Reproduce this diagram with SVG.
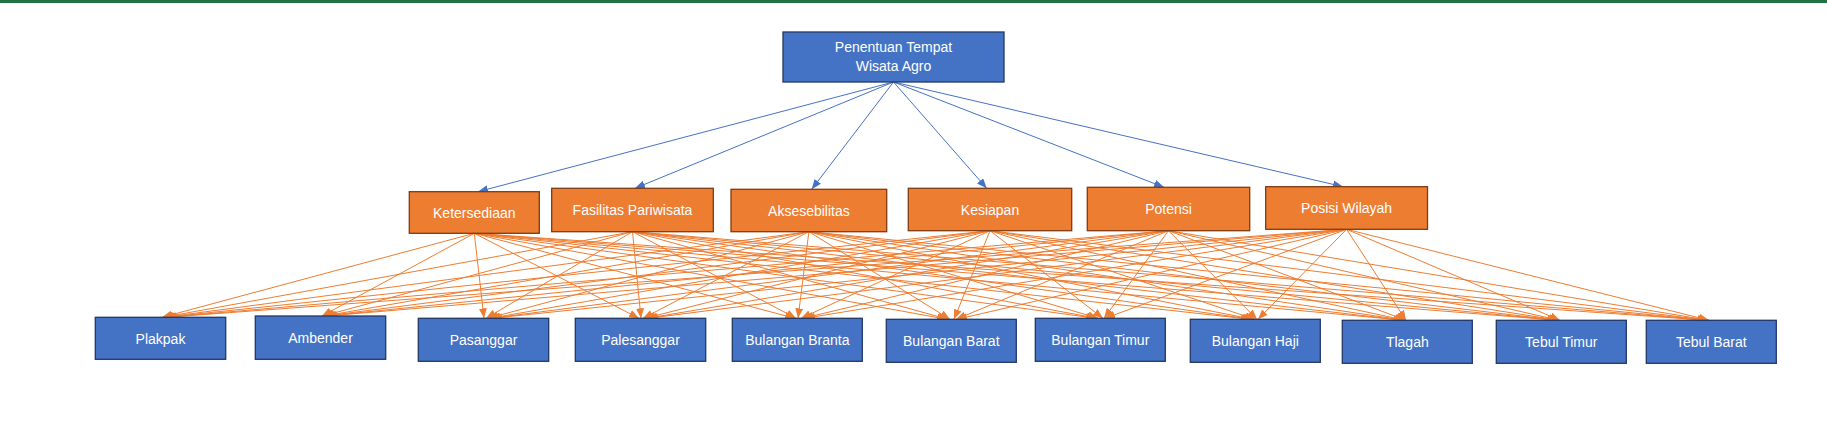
<svg xmlns="http://www.w3.org/2000/svg" width="1827" height="421" viewBox="0 0 1827 421">
<style>
.blue{fill:#4472C4;stroke:#203864;stroke-width:1.3}
.orange{fill:#ED7D31;stroke:#7F3A10;stroke-width:1.3}
.t{font-family:"Liberation Sans",Arial,sans-serif;font-size:14px;fill:#FFFFFF;text-anchor:middle}
.bl{stroke:#4472C4;stroke-width:1;fill:none;marker-end:url(#ab)}
.ol{stroke:#ED7D31;stroke-width:1;fill:none;marker-end:url(#ao)}
</style>
<defs>
<marker id="ab" markerUnits="userSpaceOnUse" markerWidth="10" markerHeight="8" refX="10" refY="4" orient="auto"><path d="M0,0 L10,4 L0,8 z" fill="#4472C4"/></marker>
<marker id="ao" markerUnits="userSpaceOnUse" markerWidth="10" markerHeight="8" refX="10" refY="4" orient="auto"><path d="M0,0 L10,4 L0,8 z" fill="#ED7D31"/></marker>
</defs>
<rect x="0" y="0" width="1827" height="421" fill="#FFFFFF"/>
<rect x="0" y="0" width="1827" height="3" fill="#217346"/>
<g id="connectors">
<line class="bl" x1="893.5" y1="82" x2="478" y2="191.7"/>
<line class="bl" x1="893.5" y1="82" x2="635" y2="188.3"/>
<line class="bl" x1="893.5" y1="82" x2="811.7" y2="189.3"/>
<line class="bl" x1="893.5" y1="82" x2="986.7" y2="188.3"/>
<line class="bl" x1="893.5" y1="82" x2="1164" y2="187.3"/>
<line class="bl" x1="893.5" y1="82" x2="1343" y2="186.7"/>
<!-- Ketersediaan -->
<line class="ol" x1="474.3" y1="233.3" x2="162" y2="317.3"/>
<line class="ol" x1="474.3" y1="233.3" x2="322" y2="316"/>
<line class="ol" x1="474.3" y1="233.3" x2="484" y2="318.3"/>
<line class="ol" x1="474.3" y1="233.3" x2="639" y2="318.3"/>
<line class="ol" x1="474.3" y1="233.3" x2="795" y2="318.3"/>
<line class="ol" x1="474.3" y1="233.3" x2="947" y2="319.3"/>
<line class="ol" x1="474.3" y1="233.3" x2="1096" y2="318.3"/>
<line class="ol" x1="474.3" y1="233.3" x2="1251" y2="319.3"/>
<line class="ol" x1="474.3" y1="233.3" x2="1404" y2="320.3"/>
<line class="ol" x1="474.3" y1="233.3" x2="1558" y2="320.3"/>
<line class="ol" x1="474.3" y1="233.3" x2="1708" y2="320.3"/>
<!-- Fasilitas Pariwisata -->
<line class="ol" x1="632.5" y1="231.7" x2="163" y2="317.3"/>
<line class="ol" x1="632.5" y1="231.7" x2="323" y2="316"/>
<line class="ol" x1="632.5" y1="231.7" x2="486" y2="318.3"/>
<line class="ol" x1="632.5" y1="231.7" x2="641" y2="318.3"/>
<line class="ol" x1="632.5" y1="231.7" x2="796" y2="318.3"/>
<line class="ol" x1="632.5" y1="231.7" x2="948" y2="319.3"/>
<line class="ol" x1="632.5" y1="231.7" x2="1097" y2="318.3"/>
<line class="ol" x1="632.5" y1="231.7" x2="1252" y2="319.3"/>
<line class="ol" x1="632.5" y1="231.7" x2="1404" y2="320.3"/>
<line class="ol" x1="632.5" y1="231.7" x2="1558" y2="320.3"/>
<line class="ol" x1="632.5" y1="231.7" x2="1708" y2="320.3"/>
<!-- Aksesebilitas -->
<line class="ol" x1="808.9" y1="231.7" x2="164" y2="317.3"/>
<line class="ol" x1="808.9" y1="231.7" x2="324" y2="316"/>
<line class="ol" x1="808.9" y1="231.7" x2="488" y2="318.3"/>
<line class="ol" x1="808.9" y1="231.7" x2="643" y2="318.3"/>
<line class="ol" x1="808.9" y1="231.7" x2="798" y2="318.3"/>
<line class="ol" x1="808.9" y1="231.7" x2="950" y2="319.3"/>
<line class="ol" x1="808.9" y1="231.7" x2="1098" y2="318.3"/>
<line class="ol" x1="808.9" y1="231.7" x2="1253" y2="319.3"/>
<line class="ol" x1="808.9" y1="231.7" x2="1405" y2="320.3"/>
<line class="ol" x1="808.9" y1="231.7" x2="1558" y2="320.3"/>
<line class="ol" x1="808.9" y1="231.7" x2="1708" y2="320.3"/>
<!-- Kesiapan -->
<line class="ol" x1="990" y1="230.7" x2="165" y2="317.3"/>
<line class="ol" x1="990" y1="230.7" x2="325" y2="316"/>
<line class="ol" x1="990" y1="230.7" x2="490" y2="318.3"/>
<line class="ol" x1="990" y1="230.7" x2="645" y2="318.3"/>
<line class="ol" x1="990" y1="230.7" x2="801" y2="318.3"/>
<line class="ol" x1="990" y1="230.7" x2="954" y2="319.3"/>
<line class="ol" x1="990" y1="230.7" x2="1103" y2="318.3"/>
<line class="ol" x1="990" y1="230.7" x2="1255" y2="319.3"/>
<line class="ol" x1="990" y1="230.7" x2="1405" y2="320.3"/>
<line class="ol" x1="990" y1="230.7" x2="1559" y2="320.3"/>
<line class="ol" x1="990" y1="230.7" x2="1708" y2="320.3"/>
<!-- Potensi -->
<line class="ol" x1="1168.5" y1="230.7" x2="166" y2="317.3"/>
<line class="ol" x1="1168.5" y1="230.7" x2="326" y2="316"/>
<line class="ol" x1="1168.5" y1="230.7" x2="491" y2="318.3"/>
<line class="ol" x1="1168.5" y1="230.7" x2="647" y2="318.3"/>
<line class="ol" x1="1168.5" y1="230.7" x2="803" y2="318.3"/>
<line class="ol" x1="1168.5" y1="230.7" x2="956" y2="319.3"/>
<line class="ol" x1="1168.5" y1="230.7" x2="1104" y2="318.3"/>
<line class="ol" x1="1168.5" y1="230.7" x2="1257" y2="319.3"/>
<line class="ol" x1="1168.5" y1="230.7" x2="1406" y2="320.3"/>
<line class="ol" x1="1168.5" y1="230.7" x2="1559" y2="320.3"/>
<line class="ol" x1="1168.5" y1="230.7" x2="1709" y2="320.3"/>
<!-- Posisi Wilayah -->
<line class="ol" x1="1346.6" y1="229.3" x2="167" y2="317.3"/>
<line class="ol" x1="1346.6" y1="229.3" x2="327" y2="316"/>
<line class="ol" x1="1346.6" y1="229.3" x2="492" y2="318.3"/>
<line class="ol" x1="1346.6" y1="229.3" x2="648" y2="318.3"/>
<line class="ol" x1="1346.6" y1="229.3" x2="805" y2="318.3"/>
<line class="ol" x1="1346.6" y1="229.3" x2="957" y2="319.3"/>
<line class="ol" x1="1346.6" y1="229.3" x2="1105" y2="318.3"/>
<line class="ol" x1="1346.6" y1="229.3" x2="1258" y2="319.3"/>
<line class="ol" x1="1346.6" y1="229.3" x2="1406" y2="320.3"/>
<line class="ol" x1="1346.6" y1="229.3" x2="1560" y2="320.3"/>
<line class="ol" x1="1346.6" y1="229.3" x2="1709" y2="320.3"/>
</g>
<g id="root">
<rect class="blue" x="783" y="32" width="221" height="50"/>
<text class="t" x="893.5" y="52">Penentuan Tempat</text>
<text class="t" x="893.5" y="71">Wisata Agro</text>
</g>
<g id="ketersediaan"><rect class="orange" x="409.3" y="191.7" width="130" height="41.6"/><text class="t" x="474.3" y="218">Ketersediaan</text></g>
<g id="fasilitas"><rect class="orange" x="551.7" y="188.3" width="161.6" height="43.4"/><text class="t" x="632.5" y="215">Fasilitas Pariwisata</text></g>
<g id="aksesebilitas"><rect class="orange" x="731" y="189.3" width="155.7" height="42.4"/><text class="t" x="808.9" y="216">Aksesebilitas</text></g>
<g id="kesiapan"><rect class="orange" x="908.3" y="188.3" width="163.4" height="42.4"/><text class="t" x="990" y="214.5">Kesiapan</text></g>
<g id="potensi"><rect class="orange" x="1087.3" y="187.3" width="162.4" height="43.4"/><text class="t" x="1168.5" y="214">Potensi</text></g>
<g id="posisi"><rect class="orange" x="1265.7" y="186.7" width="161.8" height="42.6"/><text class="t" x="1346.6" y="213">Posisi Wilayah</text></g>
<g id="plakpak"><rect class="blue" x="95.3" y="317.3" width="130.4" height="42"/><text class="t" x="160.5" y="343.5">Plakpak</text></g>
<g id="ambender"><rect class="blue" x="255.3" y="316" width="130.4" height="43.3"/><text class="t" x="320.5" y="342.5">Ambender</text></g>
<g id="pasanggar"><rect class="blue" x="418.3" y="318.3" width="130.4" height="43"/><text class="t" x="483.5" y="345">Pasanggar</text></g>
<g id="palesanggar"><rect class="blue" x="575.3" y="318.3" width="130.4" height="43"/><text class="t" x="640.5" y="345">Palesanggar</text></g>
<g id="bulangan-branta"><rect class="blue" x="732.3" y="318.3" width="130" height="43"/><text class="t" x="797.3" y="345">Bulangan Branta</text></g>
<g id="bulangan-barat"><rect class="blue" x="886.3" y="319.3" width="130" height="43"/><text class="t" x="951.3" y="346">Bulangan Barat</text></g>
<g id="bulangan-timur"><rect class="blue" x="1035.3" y="318.3" width="130" height="43"/><text class="t" x="1100.3" y="345">Bulangan Timur</text></g>
<g id="bulangan-haji"><rect class="blue" x="1190.3" y="319.3" width="130" height="43"/><text class="t" x="1255.3" y="346">Bulangan Haji</text></g>
<g id="tlagah"><rect class="blue" x="1342.3" y="320.3" width="130" height="43"/><text class="t" x="1407.3" y="347">Tlagah</text></g>
<g id="tebul-timur"><rect class="blue" x="1496.3" y="320.3" width="130" height="43"/><text class="t" x="1561.3" y="347">Tebul Timur</text></g>
<g id="tebul-barat"><rect class="blue" x="1646.3" y="320.3" width="130" height="43"/><text class="t" x="1711.3" y="347">Tebul Barat</text></g>
</svg>
